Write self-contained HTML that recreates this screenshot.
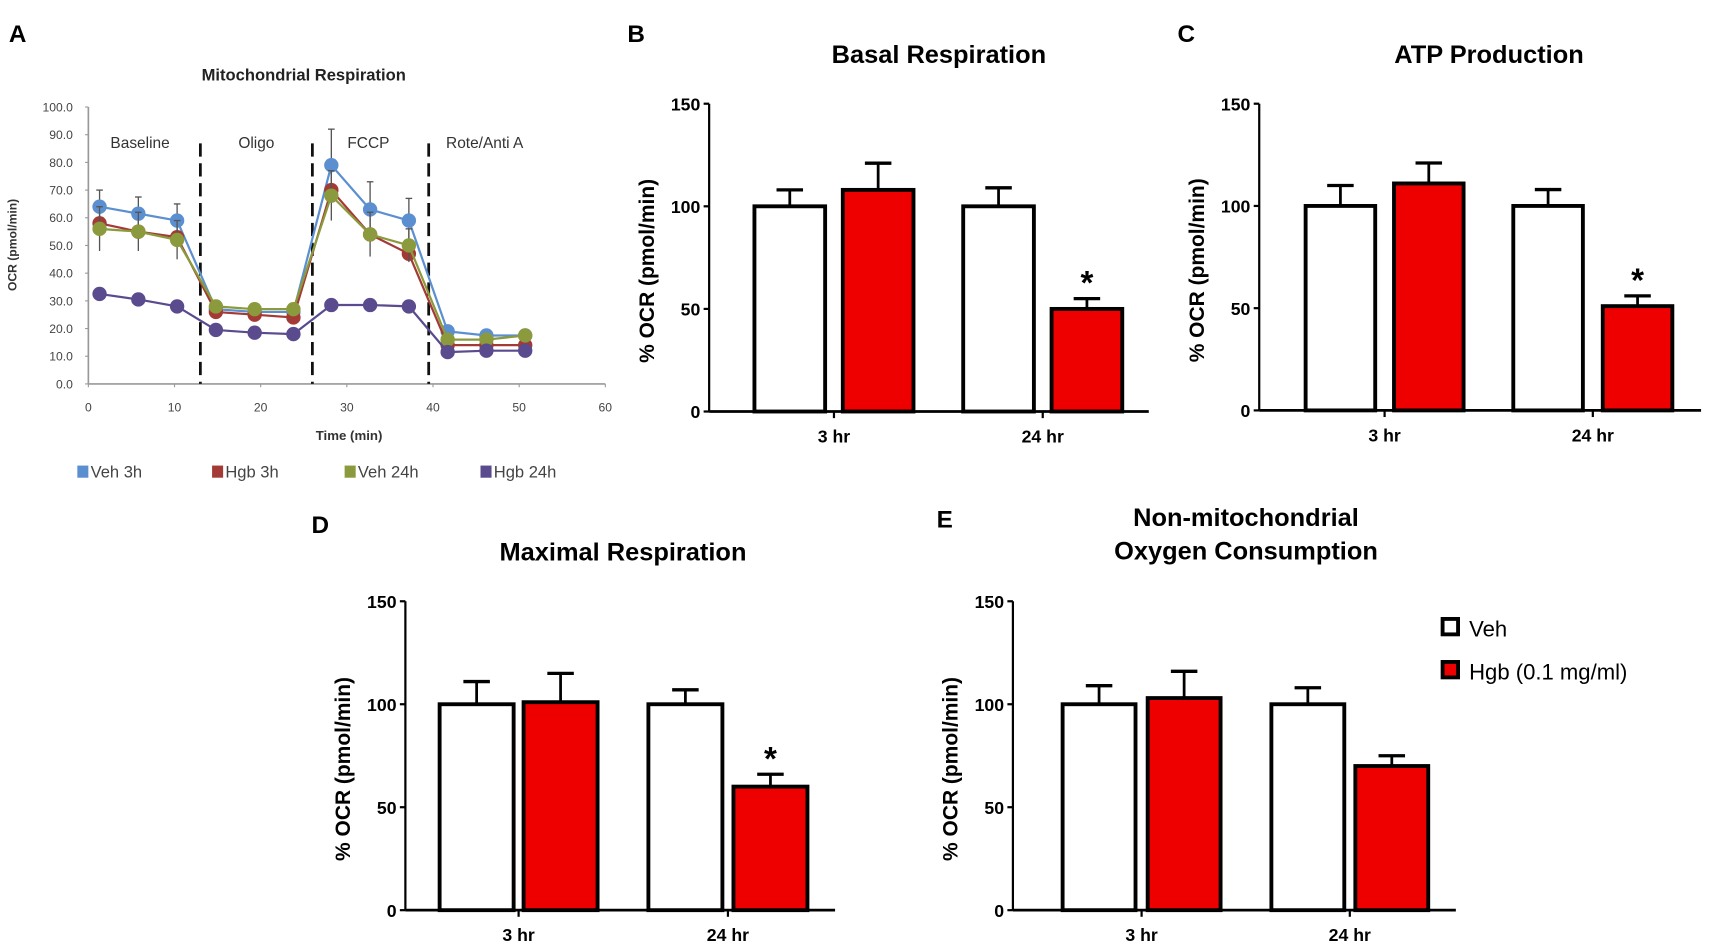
<!DOCTYPE html>
<html><head><meta charset="utf-8"><style>
html,body{margin:0;padding:0;background:#fff}
svg{display:block}
text{font-family:"Liberation Sans",Arial,sans-serif}
</style></head><body>
<svg id="fig" width="1732" height="951" viewBox="0 0 1568 862" preserveAspectRatio="none" xmlns="http://www.w3.org/2000/svg"></svg>
<script>
// Panel A data
const timesA = [1.3, 5.8, 10.3, 14.8, 19.3, 23.8, 28.2, 32.7, 37.2, 41.7, 46.2, 50.7];
const veh3h = [64, 61.5, 59, 27, 26, 26, 79, 63, 59, 19, 17.5, 17.5];
const hgb3h = [58, 55, 53, 26, 25, 24, 70, 54, 47, 14, 14, 14];
const veh24h = [56, 55, 52, 28, 27, 27, 68, 54, 50, 16, 16, 17.5];
const hgb24h = [32.5, 30.5, 28, 19.5, 18.5, 18, 28.5, 28.5, 28, 11.5, 12, 12];
const veh3hErr = [6, 6, 6, 2, 2, 2, 13, 10, 8, 2, 2, 2];
const veh24hErr = [8, 7, 7, 2, 2, 2, 9, 8, 6, 2, 2, 2];
const seriesNamesA = ["Veh 3h", "Hgb 3h", "Veh 24h", "Hgb 24h"];
const yTicksA = [0, 10, 20, 30, 40, 50, 60, 70, 80, 90, 100];
const xTicksA = [0, 10, 20, 30, 40, 50, 60];
const injectTimes = [13, 26, 39.5];
const phaseLabels = ["Baseline", "Oligo", "FCCP", "Rote/Anti A"];
const phaseTimes = [6, 19.5, 32.5, 46];

// Bar panel data
const groups = ["3 hr", "24 hr"];
const yTicksBar = [0, 50, 100, 150];
const basalVals = [100, 108, 100, 50];
const basalErr = [8, 13, 9, 5];
const atpVals = [100, 111, 100, 51];
const atpErr = [10, 10, 8, 5];
const maxVals = [100, 101, 100, 60];
const maxErr = [11, 14, 7, 6];
const nonMitoVals = [100, 103, 100, 70];
const nonMitoErr = [9, 13, 8, 5];
const basalStars = [false, false, false, true];
const atpStars = [false, false, false, true];
const maxStars = [false, false, false, true];
const nonMitoStars = [false, false, false, false];

const NS = "http://www.w3.org/2000/svg";
const svg = document.getElementById('fig');
function mk(tag, attrs, parent, txt) {
  const e = document.createElementNS(NS, tag);
  for (const k in attrs) e.setAttribute(k, attrs[k]);
  if (txt !== undefined) e.textContent = txt;
  (parent || svg).appendChild(e);
  return e;
}

// ---------- Panel A ----------
const gA = mk('g', {});


const ax0 = 80, ax1 = 548, ay0 = 348, ay1 = 97;
const xA = t => ax0 + (t - 0) / 60 * (ax1 - ax0);
const yA = v => ay0 - v / 100 * (ay0 - ay1);
let t = mk('text', {x: 8, y: 38, 'font-size': 22, 'font-weight': 'bold'}, gA, 'A');
 
t = mk('text', {x: 275, y: 73, 'font-size': 15, 'font-weight': 'bold', 'text-anchor': 'middle', fill: '#222'}, gA, 'Mitochondrial Respiration');
 
let l = mk('line', {x1: ax0, y1: ay0, x2: ax1, y2: ay0, stroke: '#999', 'stroke-width': 1.5}, gA);
 
l = mk('line', {x1: ax0, y1: ay0, x2: ax0, y2: ay1, stroke: '#999', 'stroke-width': 1.5}, gA);
 
yTicksA.forEach(v => {
  const e = mk('text', {x: 66, y: yA(v) + 4, 'font-size': 11, 'text-anchor': 'end', fill: '#444'}, gA, v.toFixed(1));
   
  mk('line', {x1: ax0 - 3, x2: ax0, y1: yA(v), y2: yA(v), stroke: '#999'}, gA);
});
xTicksA.forEach(v => {
  const e = mk('text', {x: xA(v), y: 373, 'font-size': 11, 'text-anchor': 'middle', fill: '#444'}, gA, String(v));
   
  mk('line', {x1: xA(v), x2: xA(v), y1: ay0, y2: ay0 + 3, stroke: '#999'}, gA);
});
t = mk('text', {x: 316, y: 399, 'font-size': 12, 'font-weight': 'bold', 'text-anchor': 'middle', fill: '#333'}, gA, 'Time (min)');
 
t = mk('text', {x: 0, y: 0, 'font-size': 11, 'font-weight': 'bold', 'text-anchor': 'middle', fill: '#333', transform: 'translate(15,222) rotate(-90)'}, gA, 'OCR (pmol/min)');
 
injectTimes.forEach(v => {
  const e = mk('line', {x1: xA(v), x2: xA(v), y1: 130, y2: ay0, stroke: '#111', 'stroke-width': 2.5, 'stroke-dasharray': '12,6'}, gA);
   
});
phaseLabels.forEach((s, i) => {
  const e = mk('text', {x: xA(phaseTimes[i]), y: 134, 'font-size': 14, 'text-anchor': 'middle', fill: '#333'}, gA, s);
   
});
const seriesA = [
  {vals: veh3h, err: veh3hErr, color: '#5b8fd0', name: 'veh-3h'},
  {vals: hgb3h, err: null, color: '#a33a35', name: 'hgb-3h'},
  {vals: veh24h, err: veh24hErr, color: '#8a9a3c', name: 'veh-24h'},
  {vals: hgb24h, err: null, color: '#5a4a8e', name: 'hgb-24h'}
];
seriesA.forEach(s => {
  const g = mk('g', {}, gA);
  
  
  if (s.err) s.vals.forEach((v, i) => {
    mk('line', {x1: xA(timesA[i]), x2: xA(timesA[i]), y1: yA(v - s.err[i]), y2: yA(v + s.err[i]), stroke: '#555', 'stroke-width': 1.2}, g);
    mk('line', {x1: xA(timesA[i]) - 3, x2: xA(timesA[i]) + 3, y1: yA(v + s.err[i]), y2: yA(v + s.err[i]), stroke: '#555', 'stroke-width': 1.2}, g);
  });
  const pts = s.vals.map((v, i) => xA(timesA[i]) + ',' + yA(v)).join(' ');
  const p = mk('polyline', {points: pts, fill: 'none', stroke: s.color, 'stroke-width': 2}, g);
   
  s.vals.forEach((v, i) => {
    const c = mk('circle', {cx: xA(timesA[i]), cy: yA(v), r: 6.5, fill: s.color}, g);
     
  });
});
const legX = [70, 192, 312, 435];
seriesNamesA.forEach((n, i) => {
  const g = mk('g', {}, gA);
   
  mk('rect', {x: legX[i], y: 422, width: 10, height: 11, fill: seriesA[i].color}, g);
  mk('text', {x: legX[i] + 12, y: 433, 'font-size': 15, fill: '#444'}, g, n);
});

// ---------- Bar panels ----------
function barPanel(o) {
  const g = mk('g', {});
  
  
  const y = v => o.y0 - v / 150 * (o.y0 - o.y150);
  let e = mk('text', {x: o.lx, y: o.ly, 'font-size': 22, 'font-weight': 'bold'}, g, o.letter);
   
  o.title.forEach((s, i) => {
    e = mk('text', {x: o.tx, y: o.ty + i * 30, 'font-size': 23, 'font-weight': 'bold', 'text-anchor': 'middle'}, g, s);
     
  });
  e = mk('line', {x1: o.ax, x2: o.ax, y1: o.y0, y2: o.y150, stroke: '#000', 'stroke-width': 2}, g);
   
  yTicksBar.forEach(v => {
    mk('line', {x1: o.ax - 5, x2: o.ax, y1: y(v), y2: y(v), stroke: '#000', 'stroke-width': 2}, g);
    const tt = mk('text', {x: o.ax - 8, y: y(v) + 6, 'font-size': 16, 'font-weight': 'bold', 'text-anchor': 'end'}, g, String(v));
     
  });
  e = mk('text', {x: 0, y: 0, 'font-size': 19, 'font-weight': 'bold', 'text-anchor': 'middle', transform: 'translate(' + (o.ax - 50) + ',' + ((o.y0 + o.y150) / 2 + 12) + ') rotate(-90)'}, g, '% OCR (pmol/min)');
   
  o.vals.forEach((v, i) => {
    const x0 = o.bars[i], w = o.bw;
    const top = y(v + o.err[i]);
    mk('line', {x1: x0 + w / 2, x2: x0 + w / 2, y1: y(v), y2: top, stroke: '#000', 'stroke-width': 2.5}, g);
    mk('line', {x1: x0 + w / 2 - 12, x2: x0 + w / 2 + 12, y1: top, y2: top, stroke: '#000', 'stroke-width': 3}, g);
    const r = mk('rect', {x: x0, y: y(v), width: w, height: o.y0 - y(v), fill: i % 2 ? '#ee0000' : '#fff', stroke: '#000', 'stroke-width': 3.5}, g);
    
    
    if (o.stars[i]) {
      const s = mk('text', {x: x0 + w / 2, y: top - 4, 'font-size': 30, 'font-weight': 'bold', 'text-anchor': 'middle'}, g, '*');
       
    }
  });
  e = mk('line', {x1: o.ax, x2: o.axEnd, y1: o.y0, y2: o.y0, stroke: '#000', 'stroke-width': 2.5}, g);
   
  groups.forEach((n, gi) => {
    const cx = (o.bars[gi * 2] + o.bars[gi * 2 + 1] + o.bw) / 2;
    mk('line', {x1: cx, x2: cx, y1: o.y0, y2: o.y0 + 6, stroke: '#000', 'stroke-width': 2}, g);
    const tt = mk('text', {x: cx, y: o.y0 + 28, 'font-size': 16, 'font-weight': 'bold', 'text-anchor': 'middle'}, g, n);
     
  });
}
barPanel({name: 'panel-b-basal-respiration', letter: 'B', lx: 568, ly: 38, title: ['Basal Respiration'], tx: 850, ty: 57,
  ax: 642, axEnd: 1040, y0: 373, y150: 94, bars: [683, 763, 872, 952], bw: 64, vals: basalVals, err: basalErr, stars: basalStars});
barPanel({name: 'panel-c-atp-production', letter: 'C', lx: 1066, ly: 38, title: ['ATP Production'], tx: 1348, ty: 57,
  ax: 1140, axEnd: 1540, y0: 372, y150: 94, bars: [1182, 1262, 1370, 1451], bw: 63, vals: atpVals, err: atpErr, stars: atpStars});
barPanel({name: 'panel-d-maximal-respiration', letter: 'D', lx: 282, ly: 483, title: ['Maximal Respiration'], tx: 564, ty: 508,
  ax: 367, axEnd: 756, y0: 825, y150: 545, bars: [398, 474, 587, 664], bw: 67, vals: maxVals, err: maxErr, stars: maxStars});
barPanel({name: 'panel-e-non-mitochondrial', letter: 'E', lx: 848, ly: 478, title: ['Non-mitochondrial', 'Oxygen Consumption'], tx: 1128, ty: 477,
  ax: 917, axEnd: 1318, y0: 825, y150: 545, bars: [962, 1039, 1151, 1227], bw: 66, vals: nonMitoVals, err: nonMitoErr, stars: nonMitoStars});

// Legend for bar panels
const lg = mk('g', {});
 
let le = mk('g', {}, lg);
 
mk('rect', {x: 1306, y: 561, width: 14, height: 14, fill: '#fff', stroke: '#000', 'stroke-width': 3.5}, le);
mk('text', {x: 1330, y: 577, 'font-size': 20}, le, 'Veh');
le = mk('g', {}, lg);
 
mk('rect', {x: 1306, y: 600, width: 14, height: 14, fill: '#ee0000', stroke: '#000', 'stroke-width': 3.5}, le);
mk('text', {x: 1330, y: 616, 'font-size': 20}, le, 'Hgb (0.1 mg/ml)');
</script>
</body></html>
